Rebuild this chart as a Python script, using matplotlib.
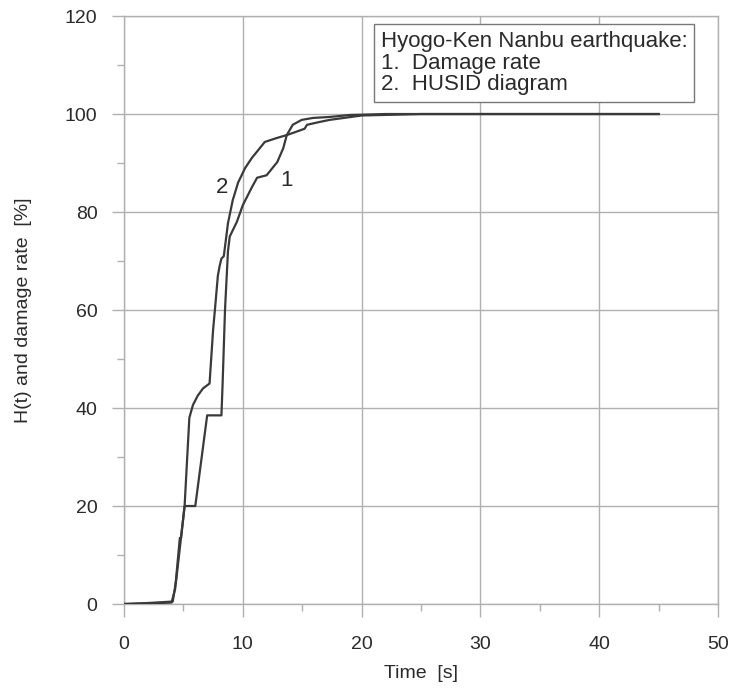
import matplotlib.pyplot as plt
import numpy as np

# === Data ===
t_damage = [0, 2, 4.1, 4.4, 5.1, 6.0, 7.0, 8.2, 8.3, 8.5, 8.75, 8.9, 9.5, 10.0,
            10.75, 11.2, 12.0, 12.9, 13.4, 13.7, 14.2, 14.95, 15.9, 17.3, 19.0, 22, 30, 45]
v_damage = [0, 0.2, 0.5, 5, 20, 20, 38.5, 38.5, 45, 60, 72, 75, 78, 81.4,
            85, 87, 87.5, 90.2, 93, 95.7, 97.8, 98.8, 99.2, 99.4, 99.8, 100, 100, 100]

t_husid = [0, 2, 4.0, 4.3, 4.7, 4.8, 5.1, 5.5, 5.8, 6.2, 6.65, 7.2, 7.5, 7.65, 7.9,
           8.05, 8.2, 8.4, 8.75, 9.15, 9.6, 10.2, 10.75, 11.85, 12.85, 13.7, 14.4,
           15.2, 15.4, 16.5, 17.3, 18.5, 20, 25, 45]
v_husid = [0, 0.1, 0.3, 3, 13.5, 13.5, 20, 38, 40.6, 42.5, 44, 45, 56, 60, 67,
           69, 70.5, 71, 77.7, 82.4, 86, 89, 91, 94.3, 95.1, 95.7, 96.3,
           97, 97.8, 98.4, 98.8, 99.2, 99.7, 100, 100]

legend_lines = ["Hyogo-Ken Nanbu earthquake:", "1.  Damage rate", "2.  HUSID diagram"]

# === Plotting ===
plt.rcParams['font.family'] = ['Liberation Sans', 'DejaVu Sans']
fig = plt.figure(figsize=(7.32, 6.91), dpi=100)
ax = fig.add_axes([0.1694, 0.1259, 0.8116, 0.8509])

line_col = '#3a3a3a'
grid_col = '#b0b0b0'
text_col = '#2a2a2a'

ax.plot(t_damage, v_damage, color=line_col, lw=1.6, zorder=3)
ax.plot(t_husid, v_husid, color=line_col, lw=1.6, zorder=3)

ax.set_xlim(0, 50)
ax.set_ylim(0, 120)
ax.set_xticks(np.arange(0, 51, 10))
ax.set_yticks(np.arange(0, 121, 20))
ax.set_xticks(np.arange(5, 50, 10), minor=True)
ax.set_yticks(np.arange(10, 120, 20), minor=True)
ax.grid(True, which='major', color=grid_col, lw=1.0)
ax.tick_params(which='major', length=9, width=1.0, color=grid_col,
               labelsize=14, labelcolor=text_col)
ax.tick_params(axis='x', which='major', pad=14)
ax.tick_params(axis='y', which='major', pad=10)
ax.tick_params(which='minor', length=5, width=1.0, color=grid_col)
for side in ['left', 'bottom', 'top', 'right']:
    ax.spines[side].set_color(grid_col)
    ax.spines[side].set_linewidth(1.0)

ax.set_xlabel("Time  [s]", fontsize=14, color=text_col, labelpad=9)
ax.set_ylabel("H(t) and damage rate  [%]", fontsize=14, color=text_col, labelpad=24)

# curve labels
ax.text(8.25, 85, "2", fontsize=16, color=text_col, ha='center', va='center')
ax.text(13.7, 86.5, "1", fontsize=16, color=text_col, ha='center', va='center')

# legend box
ax.text(21.6, 117.0, "\n".join(legend_lines), fontsize=16, color=text_col,
        ha='left', va='top', linespacing=1.05, zorder=4,
        bbox=dict(boxstyle='square,pad=0.3', facecolor='white',
                  edgecolor='#777777', lw=1.0))

plt.savefig("out.png", dpi=100)
plt.close()
